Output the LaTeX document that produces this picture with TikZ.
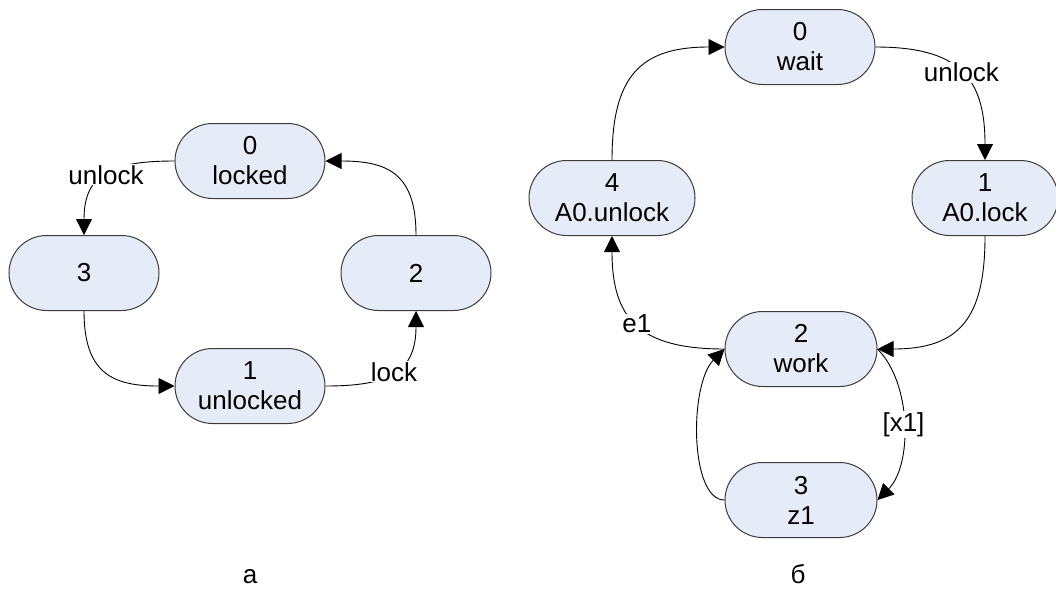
\documentclass[tikz,border=0pt]{standalone}
\usepackage{fontspec}
\setmainfont{Liberation Sans}
\usetikzlibrary{arrows.meta}
\definecolor{stfill}{HTML}{E6ECF7}
\definecolor{stline}{HTML}{3C3C3C}
\begin{document}
\begin{tikzpicture}[x=1pt,y=1pt,
  txt/.style={font=\fontsize{26}{30}\selectfont},
  state/.style={txt, draw=stline, fill=stfill, line width=1pt,
    rounded corners=37.5pt, minimum height=75pt, minimum width=150pt,
    align=center, inner sep=0pt},
  edge/.style={draw=black, line width=0.9pt,
    -{Triangle[length=16pt,width=16pt]}, looseness=1.35},
  lbl/.style={txt, fill=white, inner sep=1pt}
]
\useasboundingbox (0,0) rectangle (1056,-590);

% left automaton
\node[state] (a0) at (250,-161) {0\\locked};
\node[state] (a3) at (84,-273) {3};
\node[state] (a2) at (416,-273) {2};
\node[state] (a1) at (250,-386) {1\\unlocked};

\draw[edge] (a0.west) to[out=180,in=90] node[lbl]{unlock} (a3.north);
\draw[edge] (a3.south) to[out=-90,in=180] (a1.west);
\draw[edge] (a1.east) to[out=0,in=-90] node[lbl]{lock} (a2.south);
\draw[edge] (a2.north) to[out=90,in=0] (a0.east);

% right automaton
\node[state] (b0) at (800,-47) {0\\wait};
\node[state, minimum width=166pt] (b4) at (612,-198) {4\\A0.unlock};
\node[state, minimum width=146pt] (b1) at (985,-198) {1\\A0.lock};
\node[state, minimum width=152pt] (b2) at (801,-349) {2\\work};
\node[state, minimum width=152pt] (b3) at (801,-500) {3\\z1};

\draw[edge] (b4.north) to[out=90,in=180] (b0.west);
\draw[edge] (b0.east) to[out=0,in=90] node[lbl]{unlock} (b1.north);
\draw[edge] (b1.south) to[out=-90,in=0] (b2.east);
\draw[edge] (b2.west) to[out=180,in=-90] node[lbl]{e1} (b4.south);
\draw[edge] (b3.west) to[out=180,in=225,out distance=35pt,in distance=50pt] (b2.west);
\draw[edge] (b2.east) to[out=-45,in=45,distance=49pt] node[lbl]{[x1]} (b3.east);

% captions
\node[txt, anchor=base, inner sep=0pt] (capa) at (250,-583) {а};
\node[txt, anchor=base, inner sep=0pt] (capb) at (798,-583) {б};
\end{tikzpicture}
\end{document}
